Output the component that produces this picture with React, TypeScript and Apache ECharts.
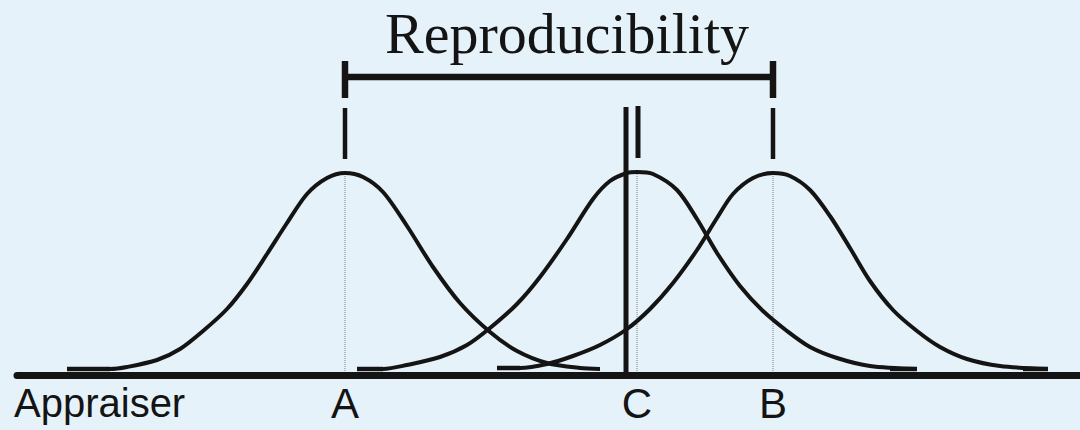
import React, { useEffect, useRef } from "react";
import * as echarts from "echarts";

const appraiserLabels = ["A", "C", "B"];
const appraiserMeans = [345, 637, 773];

const curveA: number[][] = [
  [67, 6], [110, 6], [127, 8], [157, 15], [180, 26], [203, 44], [227, 66], [247, 91],
  [267, 121], [287, 152], [307, 181], [327, 197], [345, 202], [363, 198], [383, 183],
  [407, 149], [433, 108], [460, 72], [490, 43], [517, 24], [547, 12], [580, 7], [600, 6],
];
const curveC: number[][] = [
  [357, 6], [383, 6], [407, 10], [440, 18], [467, 30], [490, 47], [517, 71], [540, 98],
  [567, 136], [593, 176], [610, 194], [627, 202], [637, 203], [653, 201], [677, 185],
  [697, 156], [717, 122], [740, 89], [763, 64], [787, 44], [810, 28], [837, 17], [870, 9],
  [917, 6],
];
const curveB: number[][] = [
  [497, 7], [520, 7], [547, 11], [573, 19], [600, 30], [627, 46], [650, 66], [673, 92],
  [697, 125], [717, 157], [733, 181], [753, 197], [773, 202], [790, 199], [810, 185],
  [830, 159], [850, 127], [870, 94], [893, 65], [917, 44], [940, 28], [967, 16],
  [1000, 9], [1048, 6],
];
const tails: number[][][] = [
  [[67, 6], [110, 6]],
  [[357, 6], [383, 6]],
  [[497, 7], [520, 7]],
  [[890, 6], [917, 6]],
  [[1023, 6], [1048, 6]],
];
const peakHeights = [202, 203, 202];
const observedAverage = 626; // thick line near C
const bracketLevel = 298;
const bracketTick = [277, 314];
const dashRange = [216, 267];
const averageTop = 268;
const xMin = 17;
const xMax = 1080;

const ink = "#141414";

function seg(data: number[][], width: number, extra: any = {}) {
  return {
    type: "line",
    data,
    symbol: "none",
    silent: true,
    clip: false,
    lineStyle: { color: ink, width, cap: "butt", ...extra },
    z: extra.z ?? 3,
  };
}

export default function App() {
  const ref = useRef<HTMLDivElement>(null);
  useEffect(() => {
    document.body.style.margin = "0";
    const chart = echarts.init(ref.current!, null, { renderer: "svg" });
    const [mA, mC, mB] = appraiserMeans;
    const series: any[] = [];
    [curveA, curveC, curveB].forEach((c) => series.push({ ...seg(c, 4), smooth: 0.3 }));
    tails.forEach((t) => series.push(seg(t, 4.5)));
    appraiserMeans.forEach((m, i) =>
      series.push(seg([[m, 0], [m, peakHeights[i]]], 1, { type: "dotted", color: "#808080", z: 2 }))
    );
    // reproducibility bracket
    series.push(seg([[mA, bracketLevel], [mB, bracketLevel]], 6.5));
    series.push(seg([[mA, bracketTick[0]], [mA, bracketTick[1]]], 6.5));
    series.push(seg([[mB, bracketTick[0]], [mB, bracketTick[1]]], 6.5));
    // dashes above the means
    series.push(seg([[mA, dashRange[0]], [mA, dashRange[1]]], 4.5));
    series.push(seg([[mB, dashRange[0]], [mB, dashRange[1]]], 4.5));
    series.push(seg([[mC + 1, dashRange[0] + 1], [mC + 1, averageTop + 1]], 5));
    series.push(seg([[observedAverage, 0], [observedAverage, averageTop]], 5));

    chart.setOption({
      animation: false,
      backgroundColor: "#e6f2f9",
      grid: { left: xMin, right: 0, top: 0, bottom: 55 },
      xAxis: {
        type: "value",
        min: xMin,
        max: xMax,
        splitLine: { show: false },
        axisTick: { show: false },
        axisLine: { show: true, lineStyle: { color: ink, width: 7 } },
        axisLabel: {
          customValues: appraiserMeans,
          formatter: (v: number) => appraiserLabels[appraiserMeans.indexOf(v)] ?? "",
          fontFamily: "Liberation Sans",
          fontSize: 42,
          color: ink,
          margin: 7,
        },
        z: 4,
      },
      yAxis: { type: "value", min: 0, max: 375, show: false, splitLine: { show: false } },
      graphic: [
        {
          type: "text",
          x: 567,
          y: 4,
          style: {
            text: "Reproducibility",
            font: '58px "Liberation Serif"',
            fill: ink,
            textAlign: "center",
            textVerticalAlign: "top",
          },
        },
        {
          type: "text",
          x: 14,
          y: 383,
          style: {
            text: "Appraiser",
            font: '40px "Liberation Sans"',
            fill: ink,
            textAlign: "left",
            textVerticalAlign: "top",
          },
        },
      ],
      series,
    });
    return () => chart.dispose();
  }, []);
  return <div ref={ref} style={{ width: 1080, height: 430 }} />;
}
